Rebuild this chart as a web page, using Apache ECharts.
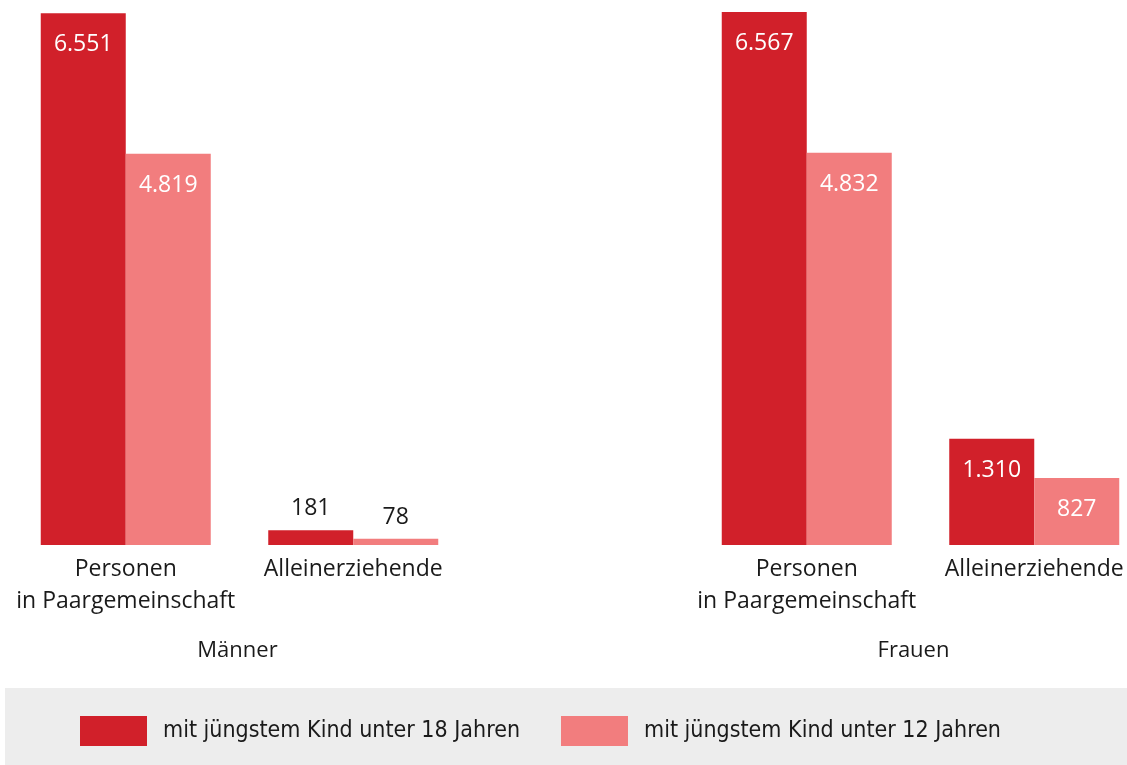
<!DOCTYPE html>
<html>
<head>
<meta charset="utf-8">
<script src="https://cdn.jsdelivr.net/npm/echarts@6/dist/echarts.min.js"></script>
<style>
  html, body { margin: 0; padding: 0; background: #fff; }
  #chart { width: 1127px; height: 765px; }
</style>
</head>
<body>
<div id="chart"></div>
<script>
const categories = ['Personen\nin Paargemeinschaft', 'Alleinerziehende']
const groups = ['Männer', 'Frauen']
const seriesNames = ['mit jüngstem Kind unter 18 Jahren', 'mit jüngstem Kind unter 12 Jahren']
const maennerU18 = [6551, 181]
const maennerU12 = [4819, 78]
const frauenU18 = [6567, 1310]
const frauenU12 = [4832, 827]

const colors = ['#d1202a', '#f27d7e']
const font = 'Open Sans'
const yMax = Math.max(...maennerU18, ...maennerU12, ...frauenU18, ...frauenU12)

// 6551 -> "6.551"
const fmt = v => String(v).replace(/\B(?=(\d{3})+(?!\d))/g, '.')

// small bars get their label above the bar, the rest inside at the top
const toItems = arr => arr.map(v => v < 500
  ? { value: v, label: { position: 'top', distance: 10, color: '#1a1a1a' } }
  : { value: v })

const barSeries = (name, data, idx, color) => ({
  name: name,
  type: 'bar',
  xAxisIndex: idx,
  yAxisIndex: idx,
  barWidth: 85,
  barGap: '0%',
  itemStyle: { color: color },
  label: {
    show: true,
    position: 'insideTop',
    distance: 20,
    color: '#fff',
    fontFamily: font,
    fontSize: 23,
    formatter: p => fmt(p.value)
  },
  data: toItems(data)
})

const xAxisBase = (idx, name, namePad) => ({
  type: 'category',
  gridIndex: idx,
  data: categories,
  axisLine: { show: false },
  axisTick: { show: false },
  axisLabel: {
    color: '#1a1a1a',
    fontFamily: font,
    fontSize: 23,
    lineHeight: 32,
    margin: 8,
    interval: 0
  },
  name: name,
  nameLocation: 'middle',
  nameGap: 95,
  nameTextStyle: { color: '#1a1a1a', fontFamily: font, fontSize: 22, padding: namePad }
})

const yAxisBase = idx => ({
  type: 'value',
  gridIndex: idx,
  min: 0,
  max: yMax,
  show: false,
  splitLine: { show: false }
})

const option = {
  animation: false,
  backgroundColor: '#fff',
  graphic: [{
    type: 'rect',
    left: 5,
    top: 688,
    shape: { width: 1122, height: 77 },
    style: { fill: '#ededed' },
    z: -1
  }],
  legend: {
    left: 80,
    top: 716,
    padding: 0,
    itemWidth: 67,
    itemHeight: 30,
    itemGap: 41,
    icon: 'rect',
    textStyle: {
      color: '#1a1a1a',
      fontFamily: 'DejaVu Sans Condensed',
      fontSize: 23,
      padding: [6, 0, 0, 11]
    },
    data: seriesNames
  },
  grid: [
    { left: 12, top: 12, width: 455, height: 533, outerBoundsMode: 'none' },
    { left: 693, top: 12, width: 455, height: 533, outerBoundsMode: 'none' }
  ],
  xAxis: [xAxisBase(0, groups[0], [0, 4, 0, 0]), xAxisBase(1, groups[1], [0, 14, 0, 0])],
  yAxis: [yAxisBase(0), yAxisBase(1)],
  series: [
    barSeries(seriesNames[0], maennerU18, 0, colors[0]),
    barSeries(seriesNames[1], maennerU12, 0, colors[1]),
    barSeries(seriesNames[0], frauenU18, 1, colors[0]),
    barSeries(seriesNames[1], frauenU12, 1, colors[1])
  ]
}

const chart = echarts.init(document.getElementById('chart'))
chart.setOption(option)
</script>
</body>
</html>
